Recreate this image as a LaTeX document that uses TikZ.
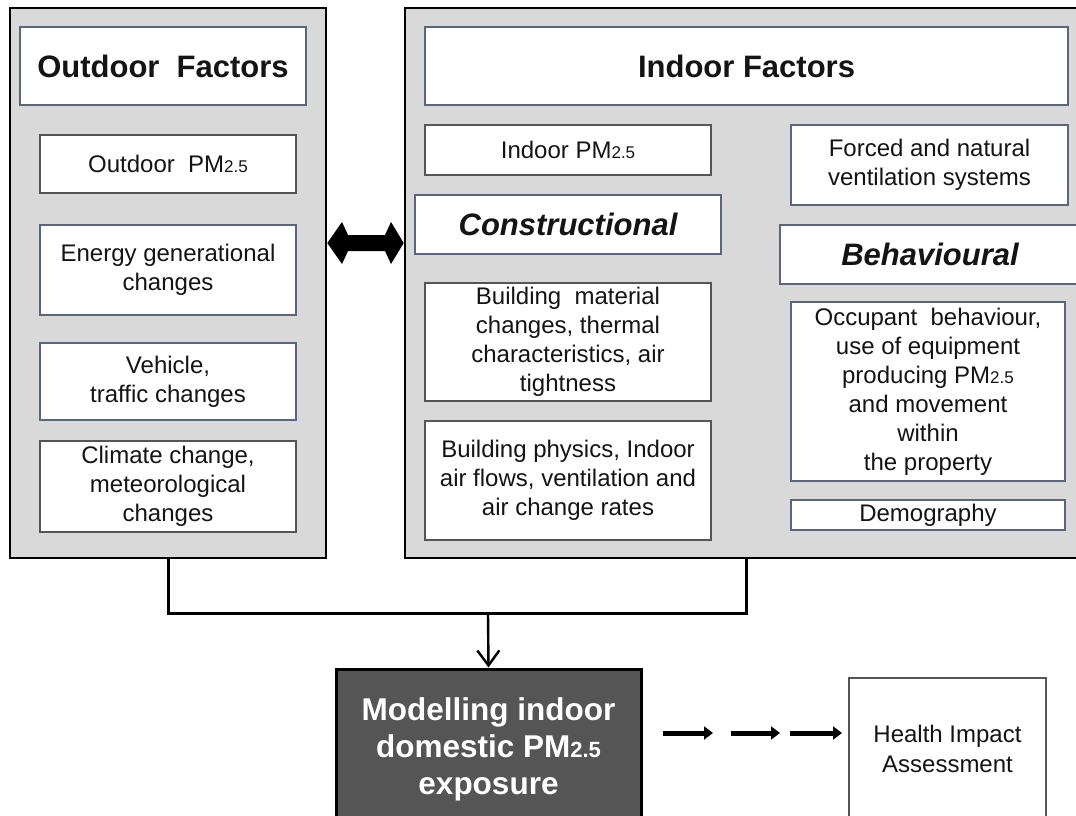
\documentclass[tikz,border=0pt]{standalone}
\usepackage{fontspec}
\setmainfont{Liberation Sans}
\usetikzlibrary{arrows.meta,calc}
\definecolor{panel}{RGB}{217,217,217}
\definecolor{blueline}{RGB}{88,102,128}
\definecolor{greyline}{RGB}{85,85,85}
\definecolor{darkfill}{RGB}{85,85,85}
\definecolor{txt}{RGB}{20,20,20}
\newcommand{\pmsub}{PM{\fontsize{17}{17}\selectfont 2.5}}
\newcommand{\pmsubw}{PM{\fontsize{22}{22}\selectfont 2.5}}
\tikzset{
  panelbox/.style={draw=black, line width=2.6pt, fill=panel, inner sep=0pt},
  headbox/.style={draw=blueline, line width=1.6pt, fill=white, text=txt, align=center, inner sep=0pt,
     font=\fontsize{31}{36}\selectfont\bfseries},
  headit/.style={headbox, font=\fontsize{31}{36}\selectfont\bfseries\itshape},
  itembox/.style={draw=blueline, line width=1.5pt, fill=white, text=txt, align=center, inner sep=0pt,
     font=\fontsize{24}{29}\selectfont},
  itemgrey/.style={itembox, draw=greyline},
  conn/.style={draw=black, line width=3pt},
  dasharrow/.style={draw=black, line width=5pt, -{Triangle[length=9pt,width=13pt]}},
}
\begin{document}
\begin{tikzpicture}[x=1pt,y=-1pt]
\useasboundingbox (0,0) rectangle (1076,816);
% panels
\node[panelbox, minimum width=316, minimum height=550] (outdoor) at (168,283) {};
\node[panelbox, minimum width=682, minimum height=550] (indoor) at (746,283) {};
% outdoor items
\node[headbox, minimum width=286, minimum height=78] (outtitle) at (163,66) {Outdoor\ \ Factors};
\node[itemgrey, minimum width=256, minimum height=58] (outpm) at (168,164) {Outdoor\ \ \pmsub};
\node[itembox, minimum width=256, minimum height=90] (energy) at (168,270) {Energy generational\\changes};
\node[itembox, minimum width=256, minimum height=77] (vehicle) at (168,381.5) {Vehicle,\\traffic changes};
\node[itemgrey, minimum width=256, minimum height=91] (climate) at (168,486.5) {Climate change,\\meteorological\\changes};
% indoor items
\node[headbox, minimum width=643, minimum height=78] (intitle) at (746.5,66) {Indoor Factors};
\node[itemgrey, minimum width=286, minimum height=50] (inpm) at (568,150) {Indoor \pmsub};
\node[headit, minimum width=306, minimum height=59] (constr) at (568,224.5) {Constructional};
\node[itemgrey, minimum width=286, minimum height=118] (material) at (568,342) {Building\ \ material\\changes, thermal\\characteristics, air\\tightness};
\node[itemgrey, minimum width=286, minimum height=119] (physics) at (568,480.5) {Building physics, Indoor\\air flows, ventilation and\\air change rates};
\node[itembox, minimum width=277, minimum height=80] (forced) at (929.5,165) {Forced and natural\\ventilation systems};
\node[headit, minimum width=300, minimum height=59] (behav) at (930,254.5) {Behavioural};
\node[itembox, minimum width=274, minimum height=179] (occupant) at (928,391.5) {Occupant\ \ behaviour,\\use of equipment\\producing \pmsub\\and movement\\within\\the property};
\node[itembox, minimum width=274, minimum height=30] (demo) at (928,515) {Demography};
% double arrow between panels
\fill[black] (outdoor.east |- 0,243) -- (342,222) -- (348,235) -- (385,235) -- (391,222)
  -- (indoor.west |- 0,243) -- (391,264) -- (385,251) -- (348,251) -- (342,264) -- cycle;
% bottom nodes
\node[draw=black, line width=3pt, fill=darkfill, inner sep=0pt,
  minimum width=305, minimum height=152] (model) at (488.5,745) {};
\node[text=white, align=center, inner sep=0pt, font=\fontsize{31.5}{37}\selectfont\bfseries] (modeltext) at (488.5,749)
  {Modelling indoor\\domestic \pmsubw\\exposure};
\node[draw=greyline, line width=1.6pt, fill=white, inner sep=0pt,
  minimum width=197, minimum height=142] (health) at (947.5,749) {};
\node[text=txt, align=center, inner sep=0pt, font=\fontsize{24}{30}\selectfont] (healthtext) at (947.5,749)
  {Health Impact\\Assessment};
% connectors
\coordinate (j) at (488,613);
\draw[conn] (outdoor.south) |- (j) -| (indoor.south);
\draw[draw=black, line width=2.4pt, -{Straight Barb[length=15pt,width=22pt,line width=2.4pt]}] (j) -- (model.north);
\coordinate (a1) at (663,733);
\coordinate (a2) at (713,733);
\coordinate (a3) at (731,733);
\coordinate (a4) at (780,733);
\coordinate (a5) at (790,733);
\coordinate (a6) at (842,733);
\draw[dasharrow] (a1) -- (a2);
\draw[dasharrow] (a3) -- (a4);
\draw[dasharrow] (a5) -- (a6);
\end{tikzpicture}
\end{document}
